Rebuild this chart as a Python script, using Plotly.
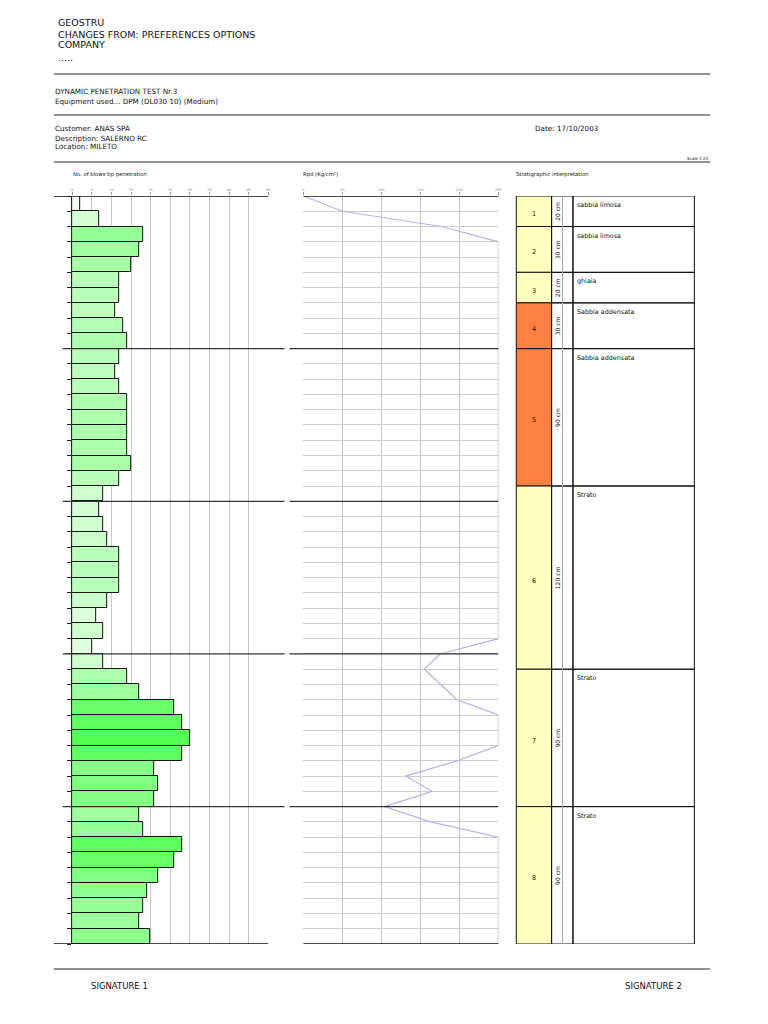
import numpy as np
import plotly.graph_objects as go

# blows per 10 cm, from the surface down
blows = [2, 7, 18, 17, 15, 12, 12, 11, 13, 14,
         12, 11, 12, 14, 14, 14, 14, 15, 12, 8,
         7, 8, 9, 12, 12, 12, 9, 6, 8, 5,
         8, 14, 17, 26, 28, 30, 28, 21, 22, 21,
         17, 18, 28, 26, 22, 19, 18, 17, 20]

# Rpd read at every 10 cm boundary (clipped at the axis end in the picture)
rpd = [0, 50, 177, 250, 250, 250, 250, 250, 250, 250,
       250, 250, 250, 250, 250, 250, 250, 250, 250, 250,
       250, 250, 250, 250, 250, 250, 250, 250, 250, 250,
       175, 155, 176, 197, 250, 250, 250, 197, 131, 165,
       104, 163, 250, 250, 250, 250, 250, 250, 250, 250]

blow_ticks = [0, 5, 10, 15, 20, 25, 30, 35, 40, 45, 50]
rpd_ticks = [0, 50, 100, 150, 200, 250]

layer_num = ['1', '2', '3', '4', '5', '6', '7', '8']
layer_cm = [20, 30, 20, 30, 90, 120, 90, 90]
layer_desc = ['sabbia limosa', 'sabbia limosa', 'ghiaia', 'Sabbia addensata',
              'Sabbia addensata', 'Strato', 'Strato', 'Strato']
layer_col = ['#ffffc0', '#ffffc0', '#ffffc0', '#ff8040',
             '#ff8040', '#ffffc0', '#ffffc0', '#ffffc0']

W, H = 768, 1024
OFF = 8  # page body margin
FW, FH = W - 2 * OFF, H - 2 * OFF
STEP = 0.1
FONT = 'DejaVu Sans'


def px(x):
    return (x - OFF) / FW


def py(y):
    return 1 - (y - OFF) / FH


depth_max = len(blows) * STEP
mid = [(i + 0.5) * STEP for i in range(len(blows))]
edges = [i * STEP for i in range(len(rpd))]


def green(v):
    c = int(max(60, min(245, round(252 - 5.6 * v))))
    return f'rgb({c},255,{c})'


fig = go.Figure()

fig.add_trace(go.Bar(
    x=blows, y=mid, orientation='h', width=STEP,
    marker=dict(color=[green(v) for v in blows], line=dict(color='#111', width=1)),
    xaxis='x', yaxis='y', showlegend=False
))

fig.add_trace(go.Scatter(
    x=rpd, y=edges, mode='lines',
    line=dict(color='#b4b4e8', width=1.2),
    xaxis='x2', yaxis='y2', showlegend=False
))

ydom = [py(944), py(196)]
tickfont = dict(family=FONT, size=3.5, color='#888')

fig.update_layout(
    width=FW, height=FH,
    margin=dict(l=0, r=0, t=0, b=0),
    paper_bgcolor='white', plot_bgcolor='white',
    font=dict(family=FONT, color='#111'),
    bargap=0,
    xaxis=dict(domain=[px(71.5), px(268.7)], range=[0, 50], anchor='y', side='top',
               tickvals=blow_ticks, ticks='outside', ticklen=3, tickcolor='#999',
               tickfont=tickfont, showgrid=True, gridcolor='#c8c8c8', gridwidth=1,
               zeroline=False, showline=False),
    yaxis=dict(domain=ydom, range=[depth_max, 0], anchor='x', dtick=STEP,
               ticks='outside', ticklen=4, tickcolor='#222', showticklabels=False,
               showgrid=False, zeroline=False, showline=True, linecolor='#222'),
    xaxis2=dict(domain=[px(304), px(500)], range=[0, 250], anchor='y2', side='top',
                tickvals=rpd_ticks, ticks='outside', ticklen=3, tickcolor='#999',
                tickfont=tickfont, showgrid=True, gridcolor='#c8c8c8', gridwidth=1,
                zeroline=False, showline=False),
    yaxis2=dict(domain=ydom, range=[depth_max, 0], anchor='x2', dtick=STEP,
                showticklabels=False, ticks='', showgrid=True, gridcolor='#cfcfcf',
                zeroline=False, showline=False),
)

shapes = []


def hline(x0, x1, d, color='#111', width=1.2, yref='y'):
    shapes.append(dict(type='line', xref='paper', yref=yref, x0=px(x0), x1=px(x1),
                       y0=d, y1=d, line=dict(color=color, width=width)))


# page rules
for yy in [74, 115, 162]:
    hline(53, 713, py(yy), color='#222', width=1, yref='paper')
hline(53, 713, py(969), color='#222', width=1, yref='paper')

# panel top / bottom and metre lines
for d in [0, depth_max]:
    hline(53, 268.7, d, width=1.4)
    hline(304, 500, d, width=1.4)
for d in range(1, int(depth_max) + 1):
    hline(62, 285, d, color='#333', width=1.3)
    hline(290, 500, d, color='#333', width=1.3)

# stratigraphic column
top = 0.0
for i, cm in enumerate(layer_cm):
    bot = top + cm / 100
    shapes.append(dict(type='rect', xref='paper', yref='y', x0=px(518), x1=px(553.5),
                       y0=top, y1=bot, fillcolor=layer_col[i], line=dict(color='#111', width=1)))
    shapes.append(dict(type='rect', xref='paper', yref='y', x0=px(553.5), x1=px(575),
                       y0=top, y1=bot, line=dict(color='#111', width=1)))
    shapes.append(dict(type='rect', xref='paper', yref='y', x0=px(575), x1=px(697),
                       y0=top, y1=bot, line=dict(color='#111', width=1)))
    top = bot
shapes.append(dict(type='line', xref='paper', yref='y', x0=px(564.5), x1=px(564.5),
                   y0=0, y1=depth_max, line=dict(color='#aaa', width=1)))

fig.update_layout(shapes=shapes)

ann = []


def text(x, y, s, size, anchor='left', yref='paper', **kw):
    ann.append(dict(x=x, y=y, xref='paper', yref=yref, text=s, showarrow=False,
                    xanchor=anchor, yanchor='middle', font=dict(family=FONT, size=size,
                    color=kw.pop('color', '#111')), **kw))


text(px(55), py(23), 'GEOSTRU', 9.5)
text(px(55), py(34), 'CHANGES FROM: PREFERENCES OPTIONS', 9.5)
text(px(55), py(45), 'COMPANY', 9.5)
text(px(55), py(57), '.....', 9.5)
text(px(52), py(91), 'DYNAMIC PENETRATION TEST Nr.3', 7.2)
text(px(52), py(101), 'Equipment used... DPM (DL030 10) (Medium)', 7.2)
text(px(52), py(128), 'Customer: ANAS SPA', 7.2)
text(px(52), py(138), 'Description: SALERNO RC', 7.2)
text(px(52), py(147), 'Location: MILETO', 7.2)
text(px(535), py(128), 'Date: 17/10/2003', 7.2)
text(px(713), py(158), 'Scale 1:24', 4, anchor='right')
text(px(70), py(175), 'No. of blows tip penetration', 5.3)
text(px(302), py(175), 'Rpd (Kg/cm²)', 5.3)
text(px(516), py(175), 'Stratigraphic interpretation', 5.3)
text(px(88), py(986), 'SIGNATURE 1', 8.5)
text(px(625), py(986), 'SIGNATURE 2', 8.5)

top = 0.0
for i, cm in enumerate(layer_cm):
    bot = top + cm / 100
    c = (top + bot) / 2
    text(px(536), c + 0.02, layer_num[i], 6.5, anchor='center', yref='y')
    text(px(559.5), c, f'{cm} cm', 6, anchor='center', yref='y', textangle=-90)
    text(px(577), top + 0.06, layer_desc[i], 6.4, yref='y')
    top = bot

fig.update_layout(annotations=ann)

fig.write_html('out.html')
